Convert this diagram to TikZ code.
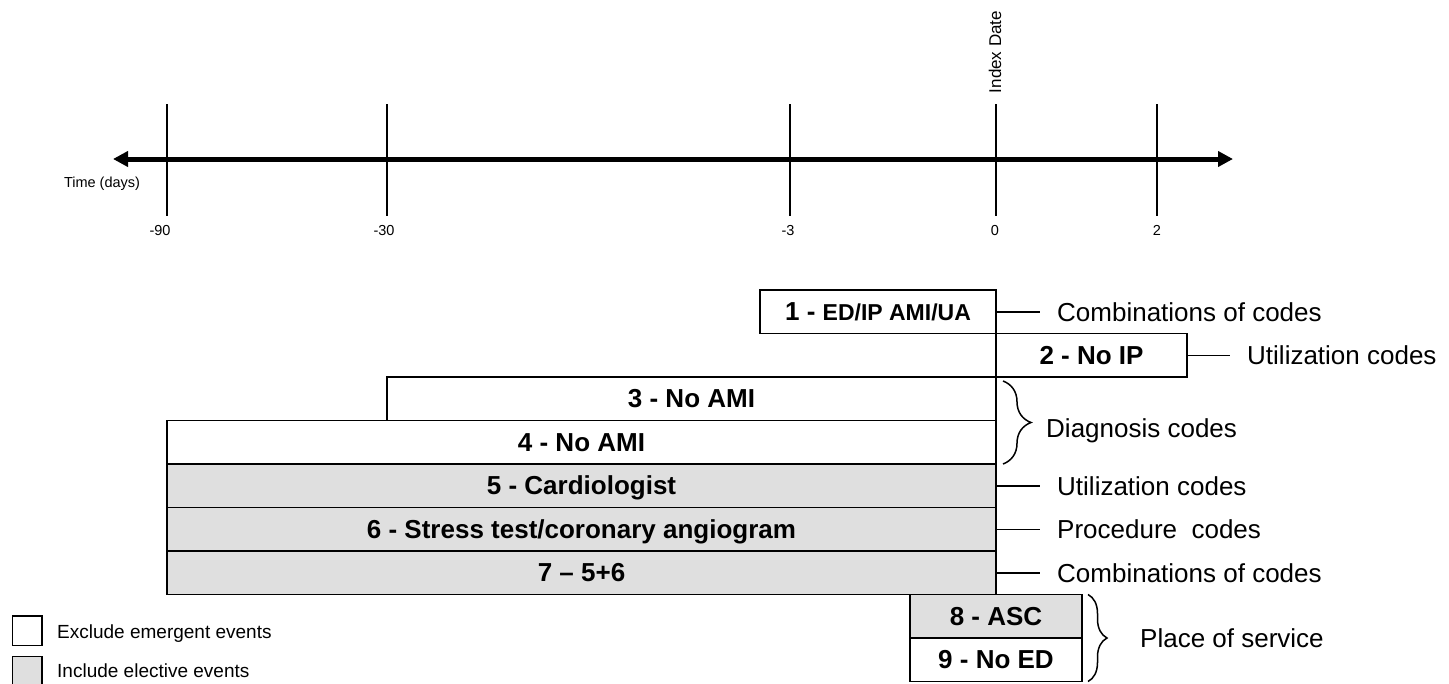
\documentclass[tikz,border=0pt]{standalone}
\usepackage{fontspec}
\setmainfont{Liberation Sans}
\usepackage{tikz}
\usetikzlibrary{arrows.meta}
\usetikzlibrary{positioning}
\usetikzlibrary{decorations.pathreplacing}

\begin{document}
\begin{tikzpicture}[x=1pt,y=-1pt,
  excl/.style={draw,line width=1.5pt,fill=white,inner sep=0pt,outer sep=0pt,minimum height=43.5pt,text height=18pt,text depth=0pt,font=\fontsize{26}{30}\selectfont\bfseries},
  incl/.style={excl,fill=gray!25},
  codes/.style={inner xsep=17pt,inner ysep=0pt,font=\fontsize{26}{30}\selectfont},
  legtext/.style={inner sep=0pt,font=\fontsize{19}{22}\selectfont},
  daylabel/.style={inner sep=0pt,font=\fontsize{14.5}{17}\selectfont},
  brc/.style={decorate,line width=1.5pt,decoration={brace,amplitude=#1}}]
\useasboundingbox (0,0) rectangle (1449,683);

% time line
\coordinate (tl) at (113,159);
\coordinate (tr) at (1233,159);
\draw[line width=5pt,{Triangle[length=15pt,width=15pt]}-{Triangle[length=15pt,width=15pt]}] (tl) -- (tr);
\foreach \x/\lx/\lab in {167/160/-90,387/384/-30,790/788/-3,996/995/0,1157/1157/2}{
  \draw[line width=2pt] (\x,104) -- (\x,216);
  \node[daylabel,anchor=base] at (\lx,235) {\lab};
}
\node[daylabel] (time) at (102,184) {Time (days)};
\node[daylabel,rotate=90,font=\fontsize{17}{20}\selectfont] (index) at (995,52) {Index Date};

% boxes
\node[excl,minimum width=829pt,anchor=north west] (b4) at (167,420.5) {4 - No AMI};
\node[excl,minimum width=609pt,anchor=south east] (b3) at (b4.north east) {3 - No AMI};
\node[excl,minimum width=191pt,anchor=south west] (b2) at (b3.north east) {2 - No IP};
\node[excl,minimum width=236pt,anchor=south east] (b1) at (b2.north west) {1 - {\fontsize{23}{27}\selectfont ED/IP AMI/UA}};
\node[incl,minimum width=829pt,below=0pt of b4] (b5) {5 - Cardiologist};
\node[incl,minimum width=829pt,below=0pt of b5] (b6) {6 - Stress test/coronary angiogram};
\node[incl,minimum width=829pt,below=0pt of b6] (b7) {7 -- 5+6};
\node[incl,minimum width=172pt,anchor=north] (b8) at (b7.south east) {8 - ASC};
\node[excl,minimum width=172pt,below=0pt of b8] (b9) {9 - No ED};

% code types
\node[codes,right=44pt of b1] (c1) {Combinations of codes};
\node[codes,right=43pt of b2] (c2) {Utilization codes};
\node[codes,right=44pt of b5] (c5) {Utilization codes};
\node[codes,right=44pt of b6] (c6) {Procedure\ \ codes};
\node[codes,right=44pt of b7] (c7) {Combinations of codes};
\draw[line width=1.5pt] (b1) -- (c1);
\draw[line width=1.5pt] (b2) -- (c2);
\draw[line width=1.5pt] (b5) -- (c5);
\draw[line width=1.5pt] (b6) -- (c6);
\draw[line width=1.5pt] (b7) -- (c7);

\coordinate (d3) at ([xshift=7pt,yshift=-4pt]b3.north east);
\coordinate (d4) at ([xshift=7pt]b4.south east);
\draw[brc=28pt] (d3) -- (d4);
\node[codes,anchor=west] (cdiag) at (1029,431) {Diagnosis codes};

\coordinate (d8) at ([xshift=6pt]b8.north east);
\coordinate (d9) at ([xshift=6pt]b9.south east);
\draw[brc=19pt] (d8) -- (d9);
\node[codes,anchor=west] (cplace) at (1123,638) {Place of service};

% legend
\node[excl,minimum width=29.5pt,minimum height=29.5pt,anchor=north west] (lex) at (12.5,616) {};
\node[incl,minimum width=29.5pt,minimum height=29.5pt,anchor=north west] (lin) at (12.5,656.5) {};
\node[legtext,anchor=west] (tex) at (57,634) {Exclude emergent events};
\node[legtext,anchor=west] (tin) at (57,671) {Include elective events};
\end{tikzpicture}
\end{document}
